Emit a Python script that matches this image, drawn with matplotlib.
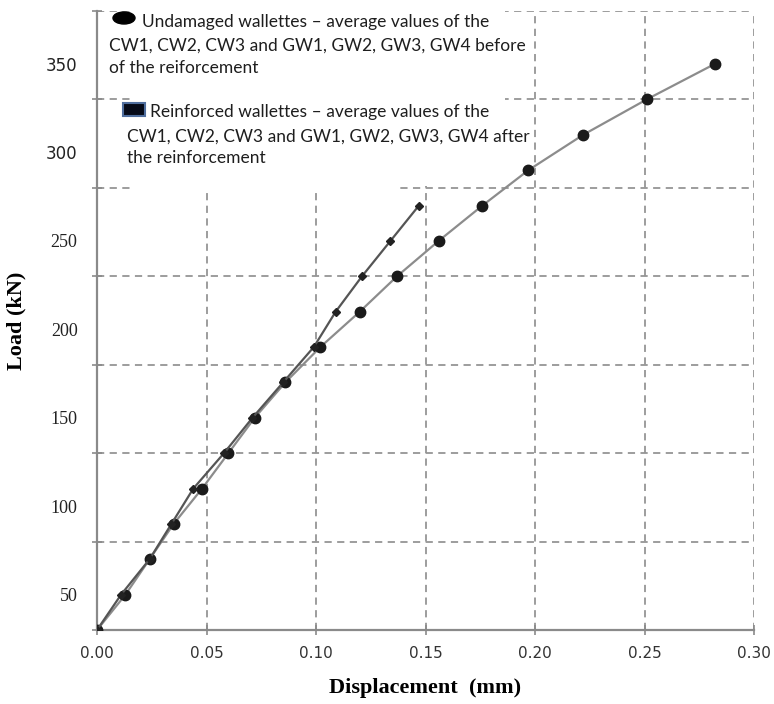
import matplotlib
matplotlib.use("Agg")
import matplotlib.pyplot as plt
from matplotlib.patches import Rectangle, Ellipse

# load steps (kN) and average displacements (mm)
load = [30, 50, 70, 90, 110, 130, 150, 170, 190, 210, 230, 250, 270, 290, 310, 330, 350]
disp_undamaged = [0.000, 0.013, 0.024, 0.035, 0.048, 0.060, 0.072, 0.086, 0.102, 0.120,
                  0.137, 0.156, 0.176, 0.197, 0.222, 0.251, 0.282]
load_reinf = [30, 50, 70, 90, 110, 130, 150, 170, 190, 210, 230, 250, 270]
disp_reinforced = [0.000, 0.011, 0.024, 0.034, 0.044, 0.058, 0.071, 0.085, 0.099, 0.109,
                   0.121, 0.134, 0.147]

x_ticks = [0.00, 0.05, 0.10, 0.15, 0.20, 0.25, 0.30]
x_labels = ["0.00", "0.05", "0.10", "0.15", "0.20", "0.25", "0.30"]
y_grid = [30, 80, 130, 180, 230, 280, 330, 380]
y_label_vals = [50, 100, 150, 200, 250, 300, 350]

legend_1 = ["Undamaged wallettes \u2013 average values of the",
            "CW1, CW2, CW3 and GW1, GW2, GW3, GW4 before",
            "of the reiforcement"]
legend_2 = ["Reinforced wallettes \u2013 average values of the",
            "CW1, CW2, CW3 and GW1, GW2, GW3, GW4 after",
            "the reinforcement"]

W, H = 774, 704
fig = plt.figure(figsize=(W / 100, H / 100), dpi=100)
ax = fig.add_axes([97 / W, 1 - 630 / H, 657 / W, 619 / H])


def fpx(px, py):
    """pixel position -> figure fraction"""
    return px / W, 1 - py / H


grid_kw = dict(color="#959595", lw=1.3, ls=(0, (4, 3)), zorder=1)
for y in y_grid[1:]:
    ax.axhline(y, **grid_kw)
for x in x_ticks[1:]:
    ax.axvline(x, **grid_kw)

ax.plot(disp_undamaged, load, color="#8c8c8c", lw=1.6, marker="o", ms=7.5,
        mfc="#1a1a1a", mec="#1a1a1a", zorder=4)
ax.plot(disp_reinforced, load_reinf, color="#555555", lw=1.6, marker="D", ms=4.5,
        mfc="#222222", mec="#222222", zorder=5)

ax.set_xlim(0, 0.30)
ax.set_ylim(30, 380)

for s in ["top", "right"]:
    ax.spines[s].set_visible(False)
for s in ["left", "bottom"]:
    ax.spines[s].set_color("#8a8a8a")
    ax.spines[s].set_linewidth(1.6)
    ax.spines[s].set_zorder(3)

ax.set_xticks(x_ticks)
ax.set_xticklabels(x_labels, fontsize=11, color="#333333", family="DejaVu Sans")
ax.tick_params(axis="x", direction="inout", length=7, width=1.2, color="#8a8a8a", pad=8)

ax.set_yticks(y_grid)
ax.set_yticklabels([])
ax.tick_params(axis="y", which="major", direction="inout", length=7, width=1.2, color="#8a8a8a")
ax.set_yticks(y_label_vals, minor=True)
ax.set_yticklabels([str(v) for v in y_label_vals], minor=True, fontsize=13,
                   family="Liberation Serif", color="#222222")
ax.tick_params(axis="y", which="minor", length=0, pad=14)
for t in ax.get_yticklabels(minor=True):
    if t.get_text() in ("300", "350"):
        t.set_family("DejaVu Sans")
        t.set_fontsize(12)

ax.set_xlabel("Displacement  (mm)", fontsize=16, fontweight="bold",
              family="Liberation Serif", labelpad=12)
ax.set_ylabel("Load (kN)", fontsize=16, fontweight="bold",
              family="Liberation Serif", labelpad=14)

# legend area: white boxes hide the grid behind the text
for (px0, py0, px1, py1) in [(130, 0, 505, 186), (130, 100, 395, 192)]:
    x0, y1 = fpx(px0, py0)
    x1, y0 = fpx(px1, py1)
    fig.add_artist(Rectangle((x0, y0), x1 - x0, y1 - y0, transform=fig.transFigure,
                             facecolor="white", edgecolor="none", zorder=2))

fig.add_artist(Ellipse(fpx(124, 18), 22 / W, 12 / H, transform=fig.transFigure,
                       facecolor="black", edgecolor="black", zorder=6))
rx, ry = fpx(123, 116)
fig.add_artist(Rectangle((rx, ry), 22 / W, 13 / H, transform=fig.transFigure,
                         facecolor="#050a18", edgecolor="#4f6e9e", lw=1.5, zorder=6))

txt_kw = dict(fontsize=12.5, family="Lato", color="#1e1e1e", va="center", ha="left", zorder=7)
for (px, py), line in zip([(142, 22), (109, 46), (109, 68)], legend_1):
    fig.text(*fpx(px, py), line, **txt_kw)
for (px, py), line in zip([(150, 112), (127, 137), (127, 158)], legend_2):
    fig.text(*fpx(px, py), line, **txt_kw)

fig.savefig("out.png", dpi=100)
